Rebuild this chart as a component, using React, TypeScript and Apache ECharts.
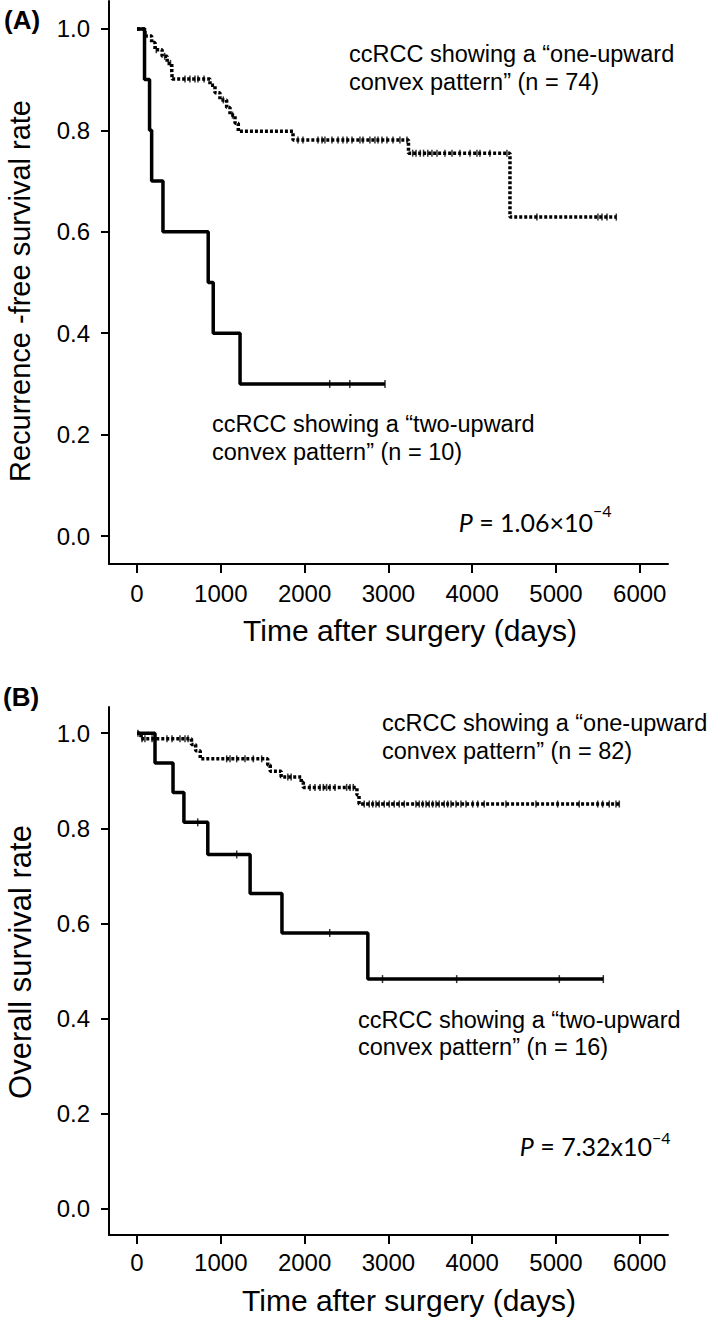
import React, { useEffect, useRef } from "react";
import * as echarts from "echarts";

// ---- axis ticks ----
const xTicks = [0, 1000, 2000, 3000, 4000, 5000, 6000];
const yTicks = [0, 0.2, 0.4, 0.6, 0.8, 1.0];

// ---- Panel A: recurrence-free survival ----
const aTwoTimes = [0, 90, 150, 175, 310, 850, 910, 1230, 2960];
const aTwoSurv = [1, 0.9, 0.8, 0.7, 0.6, 0.5, 0.4, 0.3, 0.3];
const aTwoCensor = [2300, 2540, 2960];

const aOneTimes = [0, 95, 175, 215, 300, 360, 415, 420, 871, 931, 990, 1070, 1110, 1170, 1209, 1862, 3240, 4451, 5720];
const aOneSurv = [1, 0.986, 0.973, 0.959, 0.946, 0.932, 0.916, 0.901, 0.889, 0.874, 0.86, 0.845, 0.83, 0.814, 0.798, 0.781, 0.755, 0.629, 0.629];
const aOneCensor = [230, 330, 400, 573, 632, 692, 728, 800, 1030, 1140, 1921, 1981, 2160, 2208, 2243, 2327, 2399, 2458, 2506, 2566, 2661, 2697, 2780, 2840, 2876, 2924, 2983, 3055, 3138, 3222, 3290, 3330, 3380, 3420, 3470, 3520, 3580, 3675, 3759, 3854, 3974, 4057, 4093, 4212, 4415, 4773, 5501, 5549, 5609, 5720];

// ---- Panel B: overall survival ----
const bTwoTimes = [0, 215, 430, 560, 845, 1350, 1730, 2755, 5565];
const bTwoSurv = [1, 0.9375, 0.875, 0.8125, 0.745, 0.663, 0.58, 0.483, 0.483];
const bTwoCensor = [725, 1190, 2300, 2930, 3815, 5040, 5565];

const bOneTimes = [0, 48, 650, 700, 755, 1560, 1590, 1720, 1960, 1985, 2625, 2650, 5756];
const bOneSurv = [1, 0.988, 0.976, 0.963, 0.946, 0.933, 0.92, 0.908, 0.897, 0.886, 0.87, 0.851, 0.851];
const bOneCensor = [12, 60, 95, 180, 358, 418, 513, 573, 609, 1070, 1110, 1190, 1289, 1388, 1488, 1800, 1840, 2065, 2124, 2184, 2224, 2263, 2303, 2363, 2502, 2542, 2581, 2712, 2772, 2813, 2852, 2891, 2951, 3011, 3070, 3130, 3190, 3329, 3369, 3409, 3449, 3488, 3528, 3568, 3607, 3667, 3708, 3747, 3807, 3866, 3926, 4006, 4066, 4144, 4403, 4761, 5020, 5278, 5498, 5557, 5636, 5716, 5756];

// ---- texts ----
const panelLabels = ["(A)", "(B)"];
const yTitles = ["Recurrence -free survival rate", "Overall survival rate"];
const xTitle = "Time after surgery (days)";
const oneLabels = ["ccRCC showing a \u201Cone-upward\nconvex pattern\u201D (n = 74)", "ccRCC showing a \u201Cone-upward\nconvex pattern\u201D (n = 82)"];
const twoLabels = ["ccRCC showing a \u201Ctwo-upward\nconvex pattern\u201D (n = 10)", "ccRCC showing a \u201Ctwo-upward\nconvex pattern\u201D (n = 16)"];
const pMain = ["{i|P} = 1.06\u00D710", "{i|P} = 7.32x10"];
const pExp = ["\u22124", "\u22124"];

function survAt(times: number[], surv: number[], t: number) {
  let v = surv[0];
  for (let i = 0; i < times.length; i++) {
    if (times[i] <= t) v = surv[i];
    else break;
  }
  return v;
}

const ARIAL = "Liberation Sans";

function curve(times: number[], surv: number[], idx: number, dashed: boolean) {
  return {
    type: "line",
    xAxisIndex: idx,
    yAxisIndex: idx,
    step: "end",
    showSymbol: false,
    data: times.map((t, i) => [t, surv[i]]),
    lineStyle: dashed
      ? { color: "#000", width: 3.5, type: [3, 2] }
      : { color: "#000", width: 3.5, type: "solid" },
    z: dashed ? 3 : 4,
  };
}

function censor(times: number[], surv: number[], cens: number[], idx: number, h: number) {
  return {
    type: "scatter",
    xAxisIndex: idx,
    yAxisIndex: idx,
    symbol: "rect",
    symbolSize: [1.5, h],
    itemStyle: { color: "#000" },
    data: cens.map((t) => [t, survAt(times, surv, t)]),
    z: 5,
  };
}

function xAxisFor(idx: number, margin: number) {
  return {
    type: "value",
    gridIndex: idx,
    min: -334,
    max: 6337,
    axisLine: { onZero: false, lineStyle: { color: "#000", width: 2 } },
    axisTick: { customValues: xTicks, length: 9, lineStyle: { color: "#000", width: 2 } },
    axisLabel: {
      customValues: xTicks,
      color: "#000",
      fontSize: 24,
      fontFamily: ARIAL,
      margin,
      formatter: (v: number) => String(Math.round(v)),
    },
    splitLine: { show: false },
  };
}

function yAxisFor(idx: number) {
  return {
    type: "value",
    gridIndex: idx,
    min: -0.055,
    max: 1.055,
    axisLine: { onZero: false, lineStyle: { color: "#000", width: 2 } },
    axisTick: { customValues: yTicks, length: 8, lineStyle: { color: "#000", width: 2 } },
    axisLabel: {
      customValues: yTicks,
      color: "#000",
      fontSize: 24,
      fontFamily: ARIAL,
      margin: 19,
      formatter: (v: number) => v.toFixed(1),
    },
    splitLine: { show: false },
  };
}

function txt(x: number, y: number, text: string, extra: any = {}, el: any = {}) {
  return {
    type: "text",
    x,
    y,
    ...el,
    style: { text, fill: "#000", fontFamily: ARIAL, fontSize: 23.5, align: "left", verticalAlign: "middle", ...extra },
  };
}

export default function App() {
  const ref = useRef<HTMLDivElement>(null);
  useEffect(() => {
    document.body.style.margin = "0";
    const chart = echarts.init(ref.current!, null, { renderer: "svg" });
    const pFont = "Lato";
    chart.setOption({
      animation: false,
      backgroundColor: "#fff",
      textStyle: { fontFamily: ARIAL },
      grid: [
        { left: 109, top: 1, width: 559, height: 563 },
        { left: 109, top: 707, width: 559, height: 528 },
      ],
      xAxis: [xAxisFor(0, 17), xAxisFor(1, 15)],
      yAxis: [yAxisFor(0), yAxisFor(1)],
      series: [
        curve(aOneTimes, aOneSurv, 0, true),
        curve(aTwoTimes, aTwoSurv, 0, false),
        censor(aOneTimes, aOneSurv, aOneCensor, 0, 7),
        censor(aTwoTimes, aTwoSurv, aTwoCensor, 0, 8),
        curve(bOneTimes, bOneSurv, 1, true),
        curve(bTwoTimes, bTwoSurv, 1, false),
        censor(bOneTimes, bOneSurv, bOneCensor, 1, 7),
        censor(bTwoTimes, bTwoSurv, bTwoCensor, 1, 8),
      ],
      graphic: [
        txt(4, 20, panelLabels[0], { fontSize: 26, fontWeight: "bold" }),
        txt(3, 697, panelLabels[1], { fontSize: 26, fontWeight: "bold" }),
        txt(20, 291, yTitles[0], { fontSize: 29, align: "center" }, { rotation: Math.PI / 2 }),
        txt(20, 962, yTitles[1], { fontSize: 31, align: "center" }, { rotation: Math.PI / 2 }),
        txt(410, 630, xTitle, { fontSize: 30, align: "center" }),
        txt(409, 1300, xTitle, { fontSize: 30, align: "center" }),
        txt(349, 40, oneLabels[0], { verticalAlign: "top", lineHeight: 28 }),
        txt(212, 410, twoLabels[0], { verticalAlign: "top", lineHeight: 28 }),
        txt(382, 709, oneLabels[1], { verticalAlign: "top", lineHeight: 28 }),
        txt(358, 1006, twoLabels[1], { verticalAlign: "top", lineHeight: 27 }),
        txt(593, 522, pMain[0], { fontFamily: pFont, fontSize: 25, align: "right", rich: { i: { fontStyle: "italic", fontFamily: pFont, fontSize: 25 } } }),
        txt(593, 510, pExp[0], { fontFamily: pFont, fontSize: 16 }),
        txt(652, 1146, pMain[1], { fontFamily: pFont, fontSize: 25, align: "right", rich: { i: { fontStyle: "italic", fontFamily: pFont, fontSize: 25 } } }),
        txt(652, 1137, pExp[1], { fontFamily: pFont, fontSize: 16 }),
      ],
    });
    return () => chart.dispose();
  }, []);
  return <div ref={ref} style={{ width: 709, height: 1317 }} />;
}
